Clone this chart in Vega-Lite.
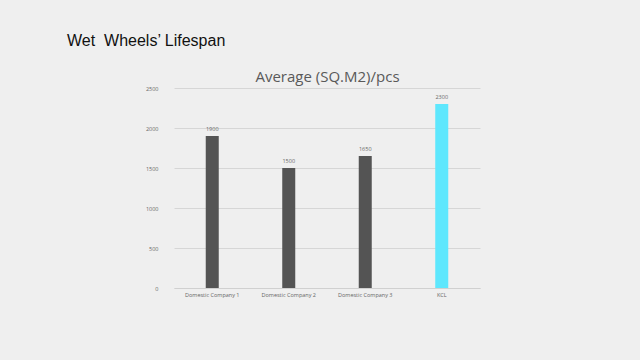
{
  "$schema": "https://vega.github.io/schema/vega-lite/v6.json",
  "width": 306,
  "height": 200,
  "autosize": {"type": "none"},
  "padding": {"left": 174, "top": 88, "right": 160, "bottom": 72},
  "background": "#efefef",
  "title": {
    "text": "Wet\u00a0 Wheels’ Lifespan",
    "anchor": "start",
    "frame": "group",
    "dx": -107,
    "offset": 20,
    "font": "Liberation Sans",
    "fontSize": 16,
    "fontWeight": "normal",
    "color": "#111111"
  },
  "data": {
    "values": [
      {"company": "Domestic Company 1", "value": 1900, "group": "domestic"},
      {"company": "Domestic Company 2", "value": 1500, "group": "domestic"},
      {"company": "Domestic Company 3", "value": 1650, "group": "domestic"},
      {"company": "KCL", "value": 2300, "group": "kcl"}
    ]
  },
  "config": {
    "view": {"stroke": null},
    "font": "Open Sans"
  },
  "resolve": {"axis": {"x": "independent"}},
  "encoding": {
    "y": {
      "field": "value",
      "type": "quantitative",
      "scale": {"domain": [0, 2500]},
      "axis": {
        "title": null,
        "values": [0, 500, 1000, 1500, 2000, 2500],
        "format": "d",
        "labelFontSize": 5.5,
        "labelColor": "#666666",
        "ticks": false,
        "domain": false,
        "gridColor": "#d6d6d6",
        "labelPadding": 16
      }
    }
  },
  "layer": [
    {
      "mark": {"type": "bar"},
      "encoding": {
        "x": {
          "field": "company",
          "type": "nominal",
          "sort": null,
          "scale": {"paddingInner": 0.83, "paddingOuter": 0.415},
          "axis": {
            "title": null,
            "labelAngle": 0,
            "labelFontSize": 5.5,
            "labelColor": "#666666",
            "ticks": false,
            "domainColor": "#d0d0d0",
            "labelPadding": 4
          }
        },
        "color": {
          "field": "group",
          "type": "nominal",
          "scale": {"domain": ["domestic", "kcl"], "range": ["#545454", "#5ee7fd"]},
          "legend": null
        }
      }
    },
    {
      "mark": {"type": "text", "dy": -7, "fontSize": 5.5, "color": "#666666"},
      "encoding": {
        "text": {"field": "value", "type": "quantitative", "format": "d"},
        "x": {
          "field": "company",
          "type": "nominal",
          "sort": null,
          "axis": {
            "orient": "top",
            "title": "Average (SQ.M2)/pcs",
            "titleFontSize": 15,
            "titleFontWeight": "normal",
            "titleColor": "#595959",
            "titlePadding": 4,
            "labels": false,
            "ticks": false,
            "domain": false,
            "grid": false
          }
        }
      }
    }
  ]
}
